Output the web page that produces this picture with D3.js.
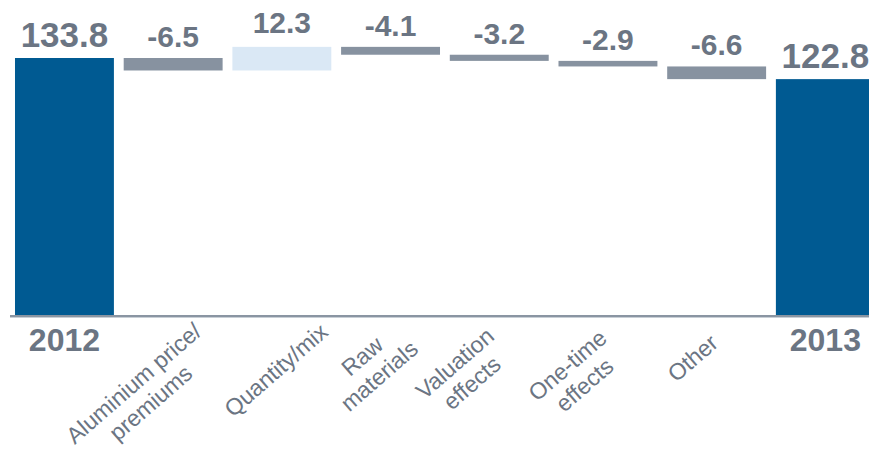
<!DOCTYPE html>
<html>
<head>
<meta charset="utf-8">
<script src="https://cdn.jsdelivr.net/npm/d3@7/dist/d3.min.js"></script>
<style>
  html, body { margin: 0; padding: 0; background: #fff; }
  svg { display: block; font-family: "Liberation Sans", Arial, sans-serif; }
</style>
</head>
<body>
<svg id="chart" width="869" height="454"></svg>
<script>
// Steps of the bridge, start to end
const categories = ["2012", "Aluminium price/\npremiums", "Quantity/mix", "Raw\nmaterials",
                    "Valuation\neffects", "One-time\neffects", "Other", "2013"];
const kinds  = ["total", "delta", "delta", "delta", "delta", "delta", "delta", "total"];
const values = [133.8, -6.5, 12.3, -4.1, -3.2, -2.9, -6.6, 122.8];
const valueLabels = ["133.8", "-6.5", "12.3", "-4.1", "-3.2", "-2.9", "-6.6", "122.8"];

// Nudges for the slanted category captions (block centre relative to band centre)
const captionShiftX = [0, -31, -6, -20, -36, -32, -24, 0];
const captionY      = [0, 393, 370, 366, 373, 375, 358, 0];

const W = 869, H = 454;
const axisY = 315;
const colTotal = "#005a92", colDown = "#8792a0", colUp = "#dae8f5";
const colText = "#6b7583";

const svg = d3.select("#chart");

const x = d3.scaleBand()
  .domain(d3.range(categories.length))
  .range([10.1, 879.7])
  .paddingInner(0.09)
  .paddingOuter(0.045);

const y = d3.scaleLinear().domain([0, 133.8]).range([axisY, 58]);

// running level of the bridge
let level = 0;
const steps = values.map((v, i) => {
  let lo, hi;
  if (kinds[i] === "total") { lo = 0; hi = v; level = v; }
  else { const a = level, b = level + v; lo = Math.min(a, b); hi = Math.max(a, b); level = b; }
  return { i, v, lo, hi, kind: kinds[i] };
});

const fillOf = d => d.kind === "total" ? colTotal : (d.v < 0 ? colDown : colUp);

svg.append("g").selectAll("rect")
  .data(steps)
  .join("rect")
  .attr("x", d => x(d.i))
  .attr("width", x.bandwidth())
  .attr("y", d => y(d.hi))
  .attr("height", d => y(d.lo) - y(d.hi))
  .attr("fill", fillOf);

// value labels above each bar
svg.append("g").selectAll("text")
  .data(steps)
  .join("text")
  .attr("x", d => x(d.i) + x.bandwidth() / 2)
  .attr("y", d => y(d.hi) - (d.v > 0 && d.kind !== "total" ? 14 : 11))
  .attr("text-anchor", "middle")
  .attr("font-weight", "bold")
  .attr("font-size", d => d.kind === "total" ? 35 : 30)
  .attr("fill", colText)
  .text(d => valueLabels[d.i]);

// baseline
svg.append("line")
  .attr("x1", 10).attr("x2", W)
  .attr("y1", axisY + 1).attr("y2", axisY + 1)
  .attr("stroke", "#8a95a2").attr("stroke-width", 2);
svg.append("line")
  .attr("x1", 10).attr("x2", W)
  .attr("y1", axisY + 2.5).attr("y2", axisY + 2.5)
  .attr("stroke", "#c8cfd6").attr("stroke-width", 1);

// year captions under the totals
svg.append("g").selectAll("text")
  .data(steps.filter(d => d.kind === "total"))
  .join("text")
  .attr("x", d => x(d.i) + x.bandwidth() / 2)
  .attr("y", 351)
  .attr("text-anchor", "middle")
  .attr("font-weight", "bold")
  .attr("font-size", 32)
  .attr("fill", colText)
  .text(d => categories[d.i]);

// slanted captions under the steps
const lineH = 26;
const caps = svg.append("g").selectAll("g")
  .data(steps.filter(d => d.kind !== "total"))
  .join("g")
  .attr("transform", d => `translate(${x(d.i) + x.bandwidth() / 2 + captionShiftX[d.i]},${captionY[d.i]}) rotate(-41)`);

caps.each(function(d) {
  const lines = categories[d.i].split("\n");
  const g = d3.select(this);
  const off = -(lines.length - 1) * lineH / 2;
  lines.forEach((t, k) => {
    g.append("text")
      .attr("x", 0)
      .attr("y", off + k * lineH)
      .attr("dy", "0.35em")
      .attr("text-anchor", "middle")
      .attr("font-size", 23)
      .attr("fill", colText)
      .text(t);
  });
});
</script>
</body>
</html>
